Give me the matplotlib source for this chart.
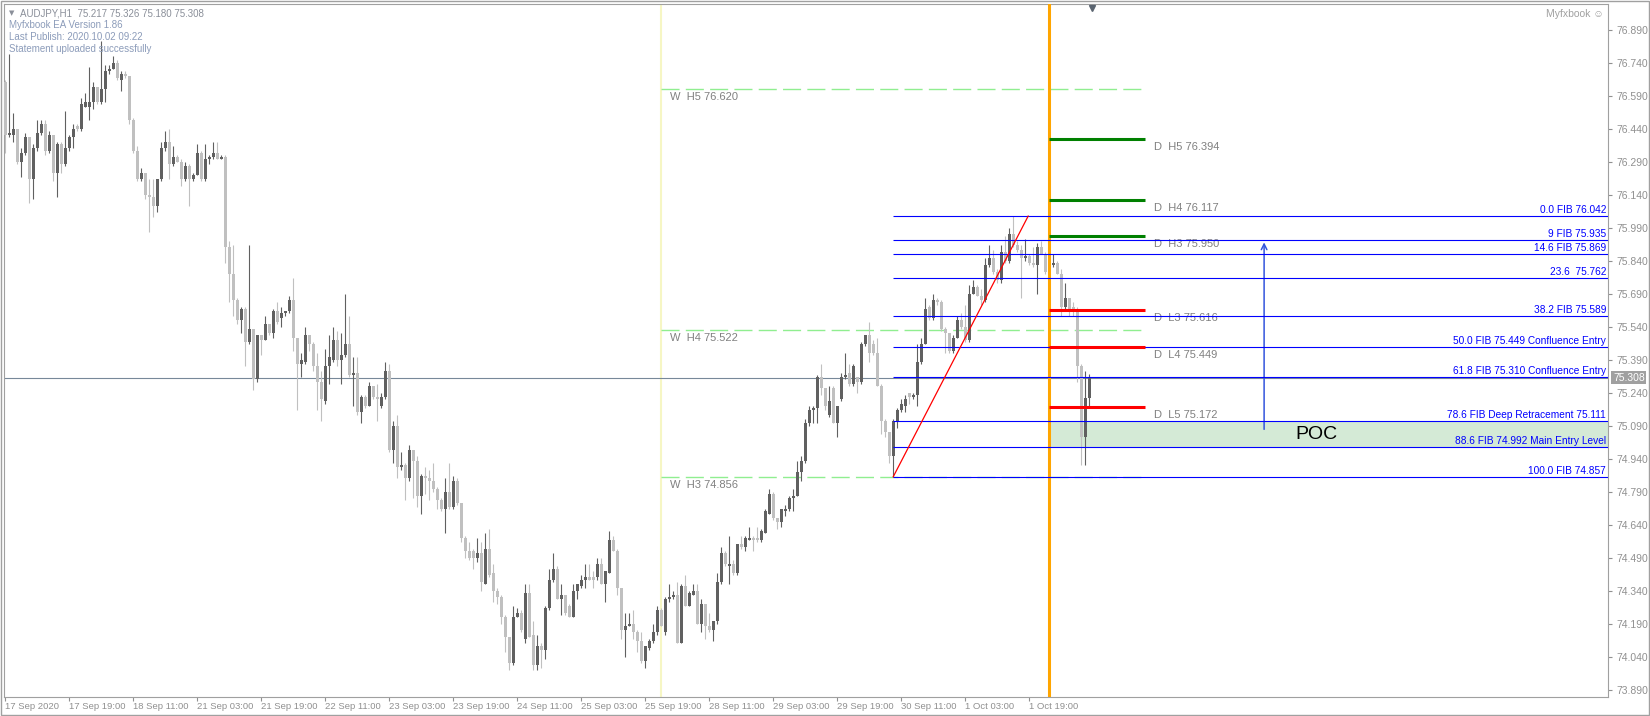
import matplotlib
matplotlib.use('Agg')
import matplotlib.pyplot as plt
from matplotlib.patches import Rectangle

plt.rcParams['font.family'] = ['Liberation Sans', 'DejaVu Sans']
plt.rcParams['lines.scale_dashes'] = False

# AUDJPY H1 candles (one value per bar)
opens = [
    76.65, 76.41, 76.41, 76.44, 76.29, 76.33, 76.40, 76.21, 76.35, 76.42,
    76.46, 76.34, 76.41, 76.24, 76.37, 76.28, 76.35, 76.40, 76.45, 76.44,
    76.54, 76.54, 76.56, 76.63, 76.56, 76.62, 76.70, 76.71, 76.74, 76.66,
    76.69, 76.68, 76.48, 76.34, 76.21, 76.24, 76.14, 76.13, 76.09, 76.21,
    76.35, 76.38, 76.28, 76.31, 76.29, 76.21, 76.27, 76.21, 76.23, 76.33,
    76.21, 76.30, 76.31, 76.33, 76.30, 76.31, 75.90, 75.78, 75.66, 75.57,
    75.62, 75.47, 75.53, 75.30, 75.50, 75.48, 75.55, 75.51, 75.61, 75.58,
    75.60, 75.61, 75.66, 75.49, 75.37, 75.38, 75.50, 75.46, 75.36, 75.29,
    75.20, 75.36, 75.39, 75.48, 75.39, 75.41, 75.46, 75.32, 75.33, 75.15,
    75.22, 75.18, 75.27, 75.22, 75.18, 75.22, 75.34, 74.98, 75.09, 74.90,
    74.91, 74.85, 74.98, 74.93, 74.77, 74.86, 74.85, 74.84, 74.80, 74.75,
    74.71, 74.79, 74.72, 74.84, 74.74, 74.58, 74.52, 74.52, 74.49, 74.51,
    74.37, 74.53, 74.42, 74.34, 74.31, 74.22, 74.13, 74.01, 74.22, 74.24,
    74.12, 74.33, 74.14, 74.00, 74.09, 74.07, 74.26, 74.39, 74.44, 74.30,
    74.32, 74.27, 74.22, 74.34, 74.36, 74.39, 74.40, 74.40, 74.40, 74.46,
    74.37, 74.42, 74.57, 74.52, 74.35, 74.16, 74.18, 74.19, 74.15, 74.11,
    74.02, 74.08, 74.11, 74.15, 74.25, 74.15, 74.30, 74.31, 74.32, 74.10,
    74.36, 74.27, 74.32, 74.34, 74.19, 74.28, 74.18, 74.16, 74.20, 74.38,
    74.51, 74.45, 74.46, 74.42, 74.55, 74.54, 74.57, 74.58, 74.58, 74.57,
    74.60, 74.69, 74.78, 74.67, 74.65, 74.70, 74.71, 74.76, 74.77, 74.88,
    74.93, 75.10, 75.16, 75.17, 75.31, 75.26, 75.14, 75.26, 75.10, 75.21,
    75.31, 75.33, 75.28, 75.31, 75.29, 75.46, 75.50, 75.46, 75.42, 75.27,
    75.11, 75.06, 74.95, 75.11, 75.16, 75.18, 75.24, 75.22, 75.23, 75.38,
    75.46, 75.63, 75.58, 75.66, 75.65, 75.53, 75.51, 75.43, 75.49, 75.57,
    75.54, 75.48, 75.69, 75.72, 75.68, 75.66, 75.82, 75.85, 75.79, 75.75,
    75.88, 75.84, 75.96, 75.91, 75.89, 75.85, 75.86, 75.83, 75.82, 75.90,
    75.87, 75.79, 75.82, 75.83, 75.78, 75.63, 75.67, 75.63, 75.62, 75.36,
    75.04, 75.217]
highs = [
    76.66, 76.78, 76.51, 76.44, 76.35, 76.42, 76.40, 76.37, 76.48, 76.48,
    76.48, 76.43, 76.41, 76.38, 76.38, 76.52, 76.41, 76.46, 76.46, 76.58,
    76.60, 76.72, 76.65, 76.63, 76.84, 76.73, 76.73, 76.77, 76.75, 76.70,
    76.70, 76.68, 76.49, 76.36, 76.26, 76.24, 76.21, 76.21, 76.21, 76.38,
    76.43, 76.44, 76.36, 76.32, 76.30, 76.29, 76.28, 76.24, 76.37, 76.34,
    76.37, 76.32, 76.38, 76.38, 76.32, 76.32, 75.93, 75.91, 75.67, 75.63,
    75.63, 75.91, 75.53, 75.50, 75.50, 75.59, 75.55, 75.62, 75.65, 75.63,
    75.61, 75.68, 75.76, 75.49, 75.42, 75.54, 75.50, 75.47, 75.42, 75.34,
    75.44, 75.50, 75.54, 75.52, 75.51, 75.69, 75.59, 75.40, 75.40, 75.23,
    75.23, 75.29, 75.27, 75.28, 75.24, 75.38, 75.37, 75.11, 75.14, 74.97,
    74.92, 75.00, 74.98, 74.95, 74.87, 74.90, 74.89, 74.92, 74.81, 74.76,
    74.85, 74.92, 74.86, 74.85, 74.74, 74.59, 74.56, 74.53, 74.58, 74.56,
    74.60, 74.62, 74.46, 74.35, 74.32, 74.23, 74.13, 74.27, 74.26, 74.25,
    74.37, 74.37, 74.20, 74.14, 74.10, 74.27, 74.44, 74.51, 74.45, 74.37,
    74.32, 74.28, 74.37, 74.37, 74.41, 74.46, 74.46, 74.43, 74.49, 74.49,
    74.43, 74.61, 74.59, 74.53, 74.35, 74.24, 74.24, 74.25, 74.16, 74.15,
    74.09, 74.12, 74.19, 74.27, 74.26, 74.31, 74.37, 74.34, 74.38, 74.37,
    74.41, 74.34, 74.37, 74.37, 74.30, 74.28, 74.24, 74.20, 74.42, 74.54,
    74.52, 74.59, 74.48, 74.55, 74.59, 74.59, 74.63, 74.59, 74.63, 74.62,
    74.71, 74.80, 74.79, 74.67, 74.71, 74.73, 74.77, 74.80, 74.93, 74.95,
    75.12, 75.18, 75.18, 75.32, 75.37, 75.26, 75.27, 75.27, 75.18, 75.33,
    75.42, 75.37, 75.37, 75.31, 75.47, 75.50, 75.56, 75.48, 75.49, 75.28,
    75.12, 75.06, 75.12, 75.17, 75.21, 75.23, 75.24, 75.24, 75.46, 75.49,
    75.67, 75.64, 75.69, 75.67, 75.66, 75.54, 75.51, 75.50, 75.59, 75.60,
    75.64, 75.73, 75.75, 75.73, 75.71, 75.85, 75.91, 75.89, 75.80, 75.91,
    75.95, 75.99, 76.042, 75.93, 75.91, 75.94, 75.87, 75.90, 75.92, 75.93,
    75.88, 75.86, 75.87, 75.84, 75.80, 75.74, 75.67, 75.65, 75.63, 75.37,
    75.34, 75.326]
lows = [
    76.33, 76.40, 76.38, 76.28, 76.22, 76.32, 76.10, 76.12, 76.34, 76.41,
    76.32, 76.33, 76.20, 76.13, 76.24, 76.27, 76.34, 76.35, 76.43, 76.43,
    76.54, 76.48, 76.53, 76.55, 76.55, 76.56, 76.69, 76.71, 76.66, 76.61,
    76.67, 76.46, 76.33, 76.20, 76.20, 76.12, 75.97, 76.04, 76.06, 76.20,
    76.34, 76.21, 76.27, 76.29, 76.18, 76.20, 76.09, 76.20, 76.23, 76.20,
    76.20, 76.28, 76.30, 76.30, 76.30, 75.83, 75.65, 75.59, 75.55, 75.51,
    75.36, 75.46, 75.25, 75.29, 75.41, 75.48, 75.50, 75.49, 75.55, 75.54,
    75.59, 75.60, 75.43, 75.16, 75.31, 75.37, 75.43, 75.34, 75.16, 75.11,
    75.19, 75.28, 75.38, 75.36, 75.28, 75.40, 75.31, 75.18, 75.14, 75.10,
    75.17, 75.18, 75.21, 75.11, 75.17, 75.21, 74.97, 74.92, 74.85, 74.89,
    74.75, 74.84, 74.76, 74.72, 74.69, 74.78, 74.75, 74.79, 74.71, 74.70,
    74.60, 74.71, 74.71, 74.73, 74.56, 74.49, 74.48, 74.44, 74.47, 74.34,
    74.37, 74.40, 74.29, 74.28, 74.19, 74.06, 73.98, 74.00, 74.22, 74.15,
    74.10, 74.13, 73.98, 73.98, 73.99, 74.03, 74.25, 74.38, 74.30, 74.23,
    74.23, 74.22, 74.22, 74.30, 74.35, 74.35, 74.39, 74.35, 74.39, 74.37,
    74.29, 74.42, 74.52, 74.32, 74.12, 74.04, 74.18, 74.12, 74.06, 74.01,
    73.99, 74.07, 74.10, 74.14, 74.18, 74.14, 74.29, 74.30, 74.10, 74.10,
    74.27, 74.27, 74.32, 74.19, 74.15, 74.12, 74.15, 74.11, 74.19, 74.37,
    74.45, 74.37, 74.41, 74.41, 74.53, 74.52, 74.57, 74.52, 74.56, 74.56,
    74.60, 74.69, 74.66, 74.62, 74.63, 74.68, 74.70, 74.70, 74.77, 74.84,
    74.92, 75.09, 75.10, 75.10, 75.23, 75.16, 75.13, 75.10, 75.04, 75.20,
    75.30, 75.27, 75.27, 75.24, 75.28, 75.45, 75.38, 75.41, 75.27, 75.05,
    75.04, 74.92, 74.857, 75.08, 75.15, 75.15, 75.19, 75.21, 75.18, 75.37,
    75.46, 75.57, 75.57, 75.64, 75.52, 75.42, 75.42, 75.42, 75.49, 75.53,
    75.47, 75.47, 75.69, 75.68, 75.64, 75.65, 75.81, 75.78, 75.74, 75.74,
    75.83, 75.83, 75.90, 75.88, 75.67, 75.84, 75.82, 75.81, 75.69, 75.87,
    75.78, 75.77, 75.81, 75.78, 75.59, 75.61, 75.59, 75.59, 75.29, 74.91,
    74.91, 75.180]
closes = [
    76.41, 76.42, 76.44, 76.29, 76.33, 76.40, 76.21, 76.35, 76.42, 76.46,
    76.34, 76.41, 76.24, 76.37, 76.28, 76.35, 76.40, 76.44, 76.44, 76.55,
    76.56, 76.56, 76.63, 76.56, 76.62, 76.70, 76.71, 76.74, 76.67, 76.69,
    76.68, 76.48, 76.34, 76.21, 76.24, 76.14, 76.13, 76.09, 76.21, 76.35,
    76.38, 76.28, 76.31, 76.29, 76.21, 76.27, 76.21, 76.23, 76.33, 76.21,
    76.30, 76.31, 76.33, 76.30, 76.31, 75.90, 75.78, 75.66, 75.57, 75.62,
    75.47, 75.53, 75.30, 75.50, 75.48, 75.55, 75.51, 75.61, 75.56, 75.60,
    75.61, 75.66, 75.49, 75.37, 75.39, 75.50, 75.46, 75.36, 75.29, 75.21,
    75.36, 75.40, 75.48, 75.39, 75.41, 75.46, 75.32, 75.33, 75.15, 75.22,
    75.18, 75.27, 75.22, 75.21, 75.22, 75.34, 74.98, 75.09, 74.90, 74.91,
    74.85, 74.98, 74.93, 74.77, 74.86, 74.85, 74.84, 74.80, 74.75, 74.71,
    74.79, 74.72, 74.84, 74.74, 74.58, 74.52, 74.49, 74.49, 74.51, 74.38,
    74.53, 74.41, 74.34, 74.31, 74.22, 74.13, 74.01, 74.22, 74.24, 74.16,
    74.33, 74.13, 74.00, 74.09, 74.07, 74.26, 74.39, 74.44, 74.30, 74.32,
    74.24, 74.22, 74.34, 74.37, 74.39, 74.40, 74.39, 74.39, 74.46, 74.37,
    74.43, 74.57, 74.52, 74.35, 74.16, 74.18, 74.19, 74.15, 74.11, 74.02,
    74.09, 74.11, 74.15, 74.25, 74.18, 74.30, 74.31, 74.32, 74.10, 74.36,
    74.27, 74.33, 74.34, 74.19, 74.28, 74.18, 74.16, 74.20, 74.38, 74.51,
    74.46, 74.46, 74.42, 74.55, 74.54, 74.58, 74.58, 74.57, 74.57, 74.61,
    74.70, 74.78, 74.67, 74.65, 74.71, 74.71, 74.76, 74.77, 74.88, 74.93,
    75.10, 75.16, 75.17, 75.31, 75.26, 75.18, 75.20, 75.10, 75.18, 75.31,
    75.32, 75.28, 75.36, 75.29, 75.46, 75.50, 75.42, 75.42, 75.27, 75.11,
    75.06, 74.95, 75.11, 75.16, 75.19, 75.21, 75.22, 75.23, 75.38, 75.46,
    75.62, 75.58, 75.66, 75.65, 75.53, 75.51, 75.43, 75.49, 75.57, 75.54,
    75.48, 75.69, 75.72, 75.68, 75.66, 75.82, 75.85, 75.79, 75.75, 75.88,
    75.84, 75.96, 75.91, 75.89, 75.85, 75.86, 75.83, 75.82, 75.90, 75.87,
    75.79, 75.82, 75.83, 75.78, 75.63, 75.67, 75.62, 75.62, 75.36, 75.04,
    75.217, 75.308]

# time axis (label every 16 bars) and price axis
x_labels = ['17 Sep 2020', '17 Sep 19:00', '18 Sep 11:00', '21 Sep 03:00',
            '21 Sep 19:00', '22 Sep 11:00', '23 Sep 03:00', '23 Sep 19:00',
            '24 Sep 11:00', '25 Sep 03:00', '25 Sep 19:00', '28 Sep 11:00',
            '29 Sep 03:00', '29 Sep 19:00', '30 Sep 11:00', '1 Oct 03:00',
            '1 Oct 19:00']
price_ticks = [76.890, 76.740, 76.590, 76.440, 76.290, 76.140, 75.990,
               75.840, 75.690, 75.540, 75.390, 75.240, 75.090, 74.940,
               74.790, 74.640, 74.490, 74.340, 74.190, 74.040, 73.890]
bid = 75.308

# weekly / daily pivot levels
w_names = ['H5', 'H4', 'H3']
w_values = [76.620, 75.522, 74.856]
d_names = ['H5', 'H4', 'H3', 'L3', 'L4', 'L5']
d_values = [76.394, 76.117, 75.950, 75.616, 75.449, 75.172]
d_colors = ['#008000', '#008000', '#008000', '#ff0000', '#ff0000', '#ff0000']

# fibonacci levels
fib_values = [76.042, 75.935, 75.869, 75.762, 75.589, 75.449, 75.310,
              75.111, 74.992, 74.857]
fib_texts = ['0.0 FIB 76.042', '9 FIB 75.935', '14.6 FIB 75.869',
             '23.6  75.762', '38.2 FIB 75.589',
             '50.0 FIB 75.449 Confluence Entry',
             '61.8 FIB 75.310 Confluence Entry',
             '78.6 FIB Deep Retracement 75.111',
             '88.6 FIB 74.992 Main Entry Level', '100.0 FIB 74.857']

week_bar = 164      # yellow separator
day_bar = 261       # orange separator (2 Oct)
swing_low_bar = 222
level_end = 285
x_right = 400.75

fig = plt.figure(figsize=(16.5, 7.16), dpi=100)
ax = fig.add_axes([3.5 / 1650, 19 / 716, 1604.5 / 1650, 693 / 716])
ax.set_xlim(-0.5, x_right)
ax.set_ylim(73.856, 77.006)

# POC zone behind everything
ax.add_patch(Rectangle((day_bar, 74.992), x_right - day_bar, 75.111 - 74.992,
                       facecolor='#d4ead6', edgecolor='none', zorder=0))

# separators and bid line
ax.axvline(week_bar, color='#f6f6c4', lw=1.5, zorder=1)
ax.axvline(day_bar, color='#ffa500', lw=2.2, zorder=4)
ax.axhline(bid, color='#778899', lw=0.8, zorder=1)

# candles
xs = list(range(len(closes)))
cols = ['#606060' if c >= o else '#c0c0c0' for o, c in zip(opens, closes)]
bottoms = [min(o, c) for o, c in zip(opens, closes)]
heights = [max(abs(c - o), 0.004) for o, c in zip(opens, closes)]
ax.vlines(xs, lows, highs, colors=cols, lw=0.8, zorder=2)
ax.bar(xs, heights, bottom=bottoms, width=0.7, color=cols, lw=0, zorder=3)

# weekly pivots
ax.hlines(w_values, week_bar, level_end, colors='#90ee90', lw=1,
          linestyles=(0, (13, 4.5)), zorder=1)
for name, val in zip(w_names, w_values):
    ax.annotate('W  %s %.3f' % (name, val), xy=(week_bar, val),
                xytext=(9, -3), textcoords='offset pixels',
                ha='left', va='top', fontsize=8, color='#808080')

# daily pivots
ax.hlines(d_values, day_bar, level_end, colors=d_colors, lw=2.2, zorder=5)
for name, val in zip(d_names, d_values):
    ax.annotate('D  %s %.3f' % (name, val), xy=(level_end, val),
                xytext=(9, -3), textcoords='offset pixels',
                ha='left', va='top', fontsize=8, color='#808080')

# fib levels
ax.hlines(fib_values, swing_low_bar, x_right, colors='#0000ff', lw=0.8, zorder=4)
for text, val in zip(fib_texts, fib_values):
    ax.annotate(text, xy=(x_right, val), xytext=(-2, 1),
                textcoords='offset pixels', ha='right', va='bottom',
                fontsize=7.3, color='#0000ff')

# swing line
ax.plot([swing_low_bar, 255.75], [74.857, 76.042], color='red', lw=0.9, zorder=5)

# arrow and POC label
ax.annotate('', xy=(314.75, 75.935), xytext=(314.75, 75.06),
            arrowprops=dict(arrowstyle='->', color='#3355dd', lw=1.1))
ax.text(327.9, 75.05, 'POC', fontsize=14, ha='center', va='center', color='black')

# axes styling
for s in ax.spines.values():
    s.set_color('#a0a0a0')
ax.yaxis.tick_right()
ax.set_yticks(price_ticks)
ax.set_yticklabels(['%.3f' % p for p in price_ticks])
ax.set_xticks(range(0, 16 * len(x_labels), 16))
ax.set_xticklabels(x_labels, ha='left')
ax.tick_params(axis='y', length=3, width=0.8, color='#909090', labelcolor='#909090',
               labelsize=7.5, pad=3)
ax.tick_params(axis='x', length=3, width=0.8, color='#909090', labelcolor='#909090',
               labelsize=6.8, pad=0.5)

# bid price box on the price axis
ax.annotate('%.3f' % bid, xy=(1, bid), xycoords=('axes fraction', 'data'),
            xytext=(5, 0), textcoords='offset pixels', ha='left', va='center',
            fontsize=7.5, color='white',
            bbox=dict(boxstyle='square,pad=0.15', fc='#a0a0a0', ec='none'))

# chart shift marker
ax.plot([271.75], [76.99], marker='v', ms=5, color='#5a6470', clip_on=False, zorder=6)

# header texts
fig.text(9 / 1650, 1 - 13 / 716, '\u25bc', fontsize=5, color='#8a8f99', va='center',
         family='DejaVu Sans')
fig.text(20.5 / 1650, 1 - 13 / 716, 'AUDJPY,H1  75.217 75.326 75.180 75.308',
         fontsize=7, color='#8a8f99', va='center')
fig.text(9 / 1650, 1 - 25.5 / 716, 'Myfxbook EA Version 1.86', fontsize=7,
         color='#8c9cba', va='center')
fig.text(9 / 1650, 1 - 37 / 716, 'Last Publish: 2020.10.02 09:22', fontsize=7,
         color='#8c9cba', va='center')
fig.text(9 / 1650, 1 - 49.5 / 716, 'Statement uploaded successfully', fontsize=7,
         color='#8c9cba', va='center')
fig.text(1604 / 1650, 1 - 14 / 716, 'Myfxbook \u263a', fontsize=7.5,
         color='#a0a0a0', ha='right', va='center', family=['Liberation Sans', 'DejaVu Sans'])

# window frame
fig.patches.append(Rectangle((0.0005, 0.001), 0.999, 0.998, transform=fig.transFigure,
                             fill=False, edgecolor='#a0a0a0', lw=1))

plt.savefig('out.png', dpi=100)
